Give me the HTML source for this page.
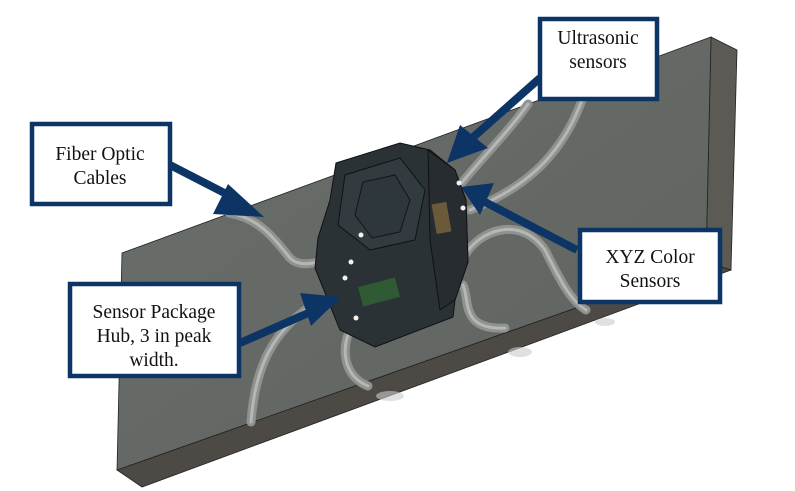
<!DOCTYPE html>
<html><head><meta charset="utf-8"><style>
html,body{margin:0;padding:0;background:#fff;}
svg{display:block;}
text{font-family:"Liberation Serif",serif;font-size:19.5px;fill:#111;}
</style></head><body>
<svg width="795" height="491" viewBox="0 0 795 491" xmlns="http://www.w3.org/2000/svg">
<defs>
<linearGradient id="fg" x1="0" y1="0" x2="1" y2="1">
<stop offset="0" stop-color="#6b6f6b"/><stop offset="1" stop-color="#5f635f"/>
</linearGradient>
</defs>
<polygon points="711,37 737,50 731,270 706,262" fill="#5b5a55" stroke="#222" stroke-width="0.8"/>
<polygon points="117,470 706,262 731,270 142,487" fill="#4d4944" stroke="#222" stroke-width="0.8"/>
<polygon points="122,253 711,37 706,262 117,470" fill="url(#fg)" stroke="#222" stroke-width="0.8"/>
<ellipse cx="390" cy="396" rx="14" ry="5" fill="#ccc" opacity="0.6"/>
<ellipse cx="520" cy="352" rx="12" ry="5" fill="#ccc" opacity="0.6"/>
<ellipse cx="605" cy="322" rx="10" ry="4" fill="#ccc" opacity="0.6"/>
<g fill="none" stroke-linecap="round">
<g stroke="#8f928f" stroke-width="9">
<path d="M528,104 C510,130 480,160 460,185"/>
<path d="M582,100 C560,160 520,190 470,210"/>
<path d="M229,213 C260,218 275,240 290,258 C300,268 315,262 320,262"/>
<path d="M251,422 C255,370 270,330 320,300"/>
<path d="M356,320 C340,340 340,375 368,386"/>
<path d="M463,285 C470,300 460,330 505,328"/>
<path d="M465,255 C480,230 520,215 545,250 C560,280 570,300 586,310"/>
</g>
<g stroke="#b4b7b4" stroke-width="3">
<path d="M528,104 C510,130 480,160 460,185"/>
<path d="M582,100 C560,160 520,190 470,210"/>
<path d="M229,213 C260,218 275,240 290,258 C300,268 315,262 320,262"/>
<path d="M251,422 C255,370 270,330 320,300"/>
<path d="M356,320 C340,340 340,375 368,386"/>
<path d="M463,285 C470,300 460,330 505,328"/>
<path d="M465,255 C480,230 520,215 545,250 C560,280 570,300 586,310"/>
</g>
</g>
<polygon points="336,163 400,143 430,150 455,170 466,200 468,262 455,300 453,317 375,347 340,330 315,268 318,238 330,200" fill="#2b3236" stroke="#111" stroke-width="1"/>
<polygon points="345,175 400,158 425,190 415,240 370,250 338,225" fill="#323b40" stroke="#111" stroke-width="1"/>
<polygon points="363,182 395,175 410,200 400,232 372,238 355,215" fill="#2e373c" stroke="#151515" stroke-width="1"/>
<polygon points="428,150 455,170 466,200 468,262 455,300 440,310 430,240" fill="#262c30" stroke="#111" stroke-width="1"/>
<rect x="360" y="282" width="38" height="20" fill="#2f5a34" transform="rotate(-15 379 292)"/>
<rect x="434" y="203" width="15" height="30" fill="#6b5a3a" transform="rotate(-10 441 218)"/>
<g fill="#f2f2f2">
<circle cx="361" cy="235" r="2.5"/><circle cx="351" cy="262" r="2.5"/><circle cx="345" cy="278" r="2.5"/><circle cx="356" cy="318" r="2.5"/>
<circle cx="459" cy="183" r="2.5"/><circle cx="463" cy="208" r="2.5"/>
</g>
<g fill="#0c3566" stroke="#0c3566">
<line x1="170" y1="165" x2="240" y2="201" stroke-width="8"/>
<polygon points="228,184 264,217 213,214" stroke="none"/>
<line x1="540" y1="78" x2="470" y2="140" stroke-width="8"/>
<polygon points="460,125 447,163 488,148" stroke="none"/>
<line x1="577" y1="250" x2="485" y2="202" stroke-width="8"/>
<polygon points="494,183 461,187 480,215" stroke="none"/>
<line x1="240" y1="343" x2="315" y2="310" stroke-width="8"/>
<polygon points="300,293 341,297 311,326" stroke="none"/>
</g>
<g fill="#fff" stroke="#0c3566" stroke-width="4.5">
<rect x="540" y="19" width="117" height="80"/>
<rect x="32" y="124" width="138" height="80"/>
<rect x="70" y="284" width="169" height="92"/>
<rect x="580" y="230" width="140" height="72"/>
</g>
<text x="598" y="44" text-anchor="middle">Ultrasonic</text>
<text x="598" y="68" text-anchor="middle">sensors</text>
<text x="100" y="160" text-anchor="middle">Fiber Optic</text>
<text x="100" y="184" text-anchor="middle">Cables</text>
<text x="154" y="318" text-anchor="middle">Sensor Package</text>
<text x="154" y="342" text-anchor="middle">Hub, 3 in peak</text>
<text x="154" y="366" text-anchor="middle">width.</text>
<text x="650" y="263" text-anchor="middle">XYZ Color</text>
<text x="650" y="287" text-anchor="middle">Sensors</text>
</svg>
</body></html>
